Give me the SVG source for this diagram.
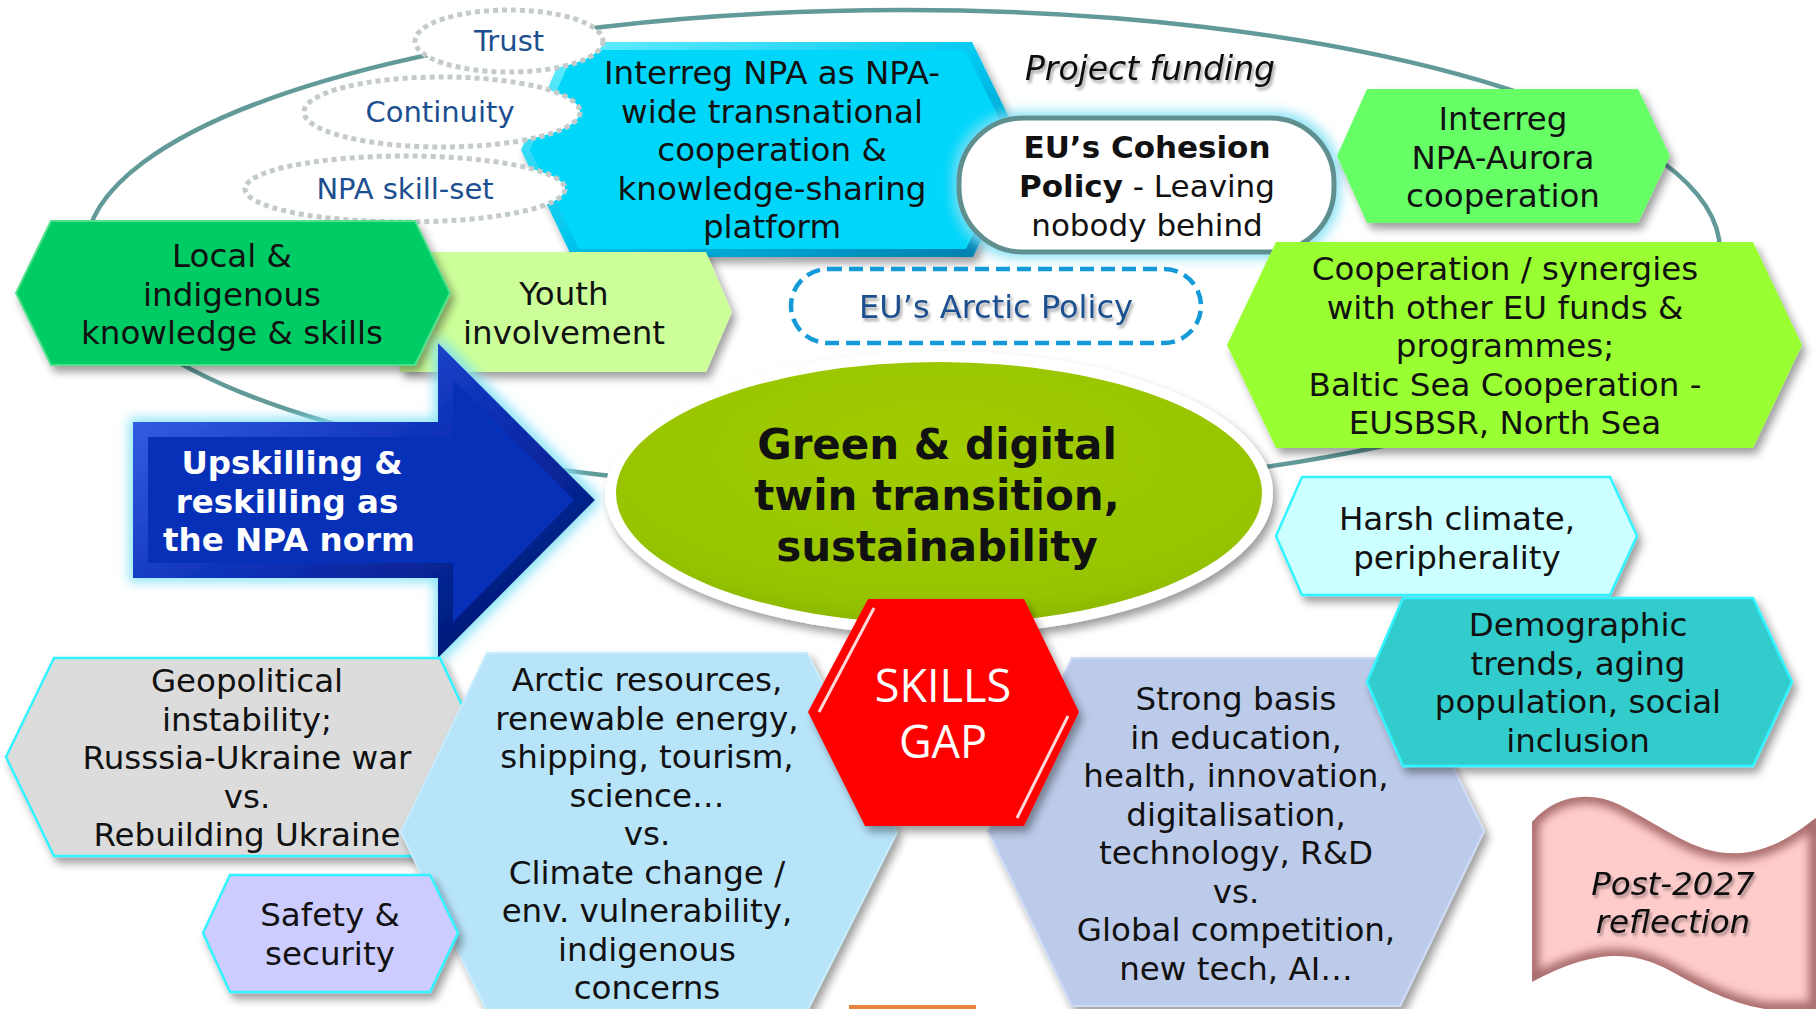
<svg xmlns="http://www.w3.org/2000/svg" width="1816" height="1009" viewBox="0 0 1816 1009">
  <defs>
    <style>
      .t { font-family: "DejaVu Sans", Verdana, sans-serif; font-size: 32.5px; fill: #111; text-anchor: middle; }
      .tb { font-weight: bold; }
      .ti { font-style: italic; }
      .w { fill: #fff; }
      .blue { fill: #1c4f8f; font-size: 29px; }
      .coh { font-size: 31px; }
      .big { font-size: 42px; }
      .dotted { fill: #fff; stroke: #c3cbcb; stroke-width: 5; stroke-dasharray: 5 4; }
      .cyanedge { stroke: #33f3ff; stroke-width: 2.5; }
    </style>
    <filter id="shadow" x="-10%" y="-10%" width="125%" height="130%">
      <feDropShadow dx="4" dy="6" stdDeviation="4" flood-color="#000" flood-opacity="0.38"/>
    </filter>
    <filter id="tshadow" x="-5%" y="-20%" width="115%" height="150%">
      <feDropShadow dx="2" dy="3" stdDeviation="1.5" flood-color="#000" flood-opacity="0.35"/>
    </filter>
    <filter id="glow" x="-15%" y="-20%" width="130%" height="140%">
      <feMorphology in="SourceAlpha" operator="dilate" radius="4" result="d"/>
      <feGaussianBlur in="d" stdDeviation="6" result="b"/>
      <feFlood flood-color="#7fe0f5" flood-opacity="0.9"/>
      <feComposite in2="b" operator="in" result="g"/>
      <feMerge><feMergeNode in="g"/><feMergeNode in="SourceGraphic"/></feMerge>
    </filter>
    <filter id="soft" x="-10%" y="-10%" width="120%" height="120%">
      <feGaussianBlur stdDeviation="5"/>
    </filter>
    <clipPath id="flagClip">
      <path d="M1532,822 C1555,795 1590,790 1620,805 C1670,830 1700,860 1750,852 C1785,845 1805,825 1816,818 L1816,1009 L1765,1009 C1725,1002 1695,984 1665,968 C1630,950 1590,950 1532,982 Z"/>
    </clipPath>
    <linearGradient id="cyanBevel" x1="0" y1="0" x2="1" y2="1">
      <stop offset="0" stop-color="#6ff2ff"/>
      <stop offset="0.5" stop-color="#00c6ee"/>
      <stop offset="1" stop-color="#0078a8"/>
    </linearGradient>
    <linearGradient id="blueBevel" x1="0" y1="0" x2="1" y2="1">
      <stop offset="0" stop-color="#3f6bf0"/>
      <stop offset="0.5" stop-color="#0a2fb4"/>
      <stop offset="1" stop-color="#01135e"/>
    </linearGradient>
    <radialGradient id="greenFill" cx="0.5" cy="0.35" r="0.7">
      <stop offset="0" stop-color="#a2cc00"/>
      <stop offset="0.8" stop-color="#97c400"/>
      <stop offset="1" stop-color="#86b300"/>
    </radialGradient>
  </defs>

  <rect width="1816" height="1009" fill="#fff"/>

  <!-- connector ring that ties the themes together -->
  <g id="connectors">
    <ellipse cx="903" cy="251" rx="817" ry="241" fill="none" stroke="#629a9a" stroke-width="4.5"/>
  </g>

  <!-- upper row -->
  <g id="node-interreg-npa">
    <g filter="url(#shadow)">
      <polygon points="568,42 972,42 1025,150 973,257 572,257 521,150" fill="url(#cyanBevel)"/>
      <polygon points="575,50 965,50 1015,150 966,249 579,249 530,150" fill="#00d6fa"/>
    </g>
    <text class="t" x="772" y="84">Interreg NPA as NPA-</text>
    <text class="t" x="772" y="122.5">wide transnational</text>
    <text class="t" x="772" y="161">cooperation &amp;</text>
    <text class="t" x="772" y="199.5">knowledge-sharing</text>
    <text class="t" x="772" y="238">platform</text>
  </g>

  <g id="node-trust">
    <ellipse class="dotted" cx="509" cy="41" rx="94" ry="31"/>
    <text class="t blue" x="509" y="51">Trust</text>
  </g>
  <g id="node-continuity">
    <ellipse class="dotted" cx="442" cy="112" rx="138" ry="35"/>
    <text class="t blue" x="440" y="122">Continuity</text>
  </g>
  <g id="node-skillset">
    <ellipse class="dotted" cx="405" cy="189" rx="160" ry="33"/>
    <text class="t blue" x="405" y="199">NPA skill-set</text>
  </g>

  <g id="node-project-funding">
    <text class="t ti" x="1150" y="80" style="font-size:33px" filter="url(#tshadow)">Project funding</text>
  </g>

  <g id="node-cohesion">
    <rect x="959" y="118" width="375" height="134" rx="64" fill="#fff" stroke="#5f8f8f" stroke-width="5" filter="url(#glow)"/>
    <text class="t tb coh" x="1147" y="158">EU’s Cohesion</text>
    <text class="t coh" x="1147" y="197"><tspan font-weight="bold">Policy</tspan> -  Leaving</text>
    <text class="t coh" x="1147" y="236">nobody behind</text>
  </g>

  <g id="node-aurora">
    <polygon points="1367,89 1638,89 1670,156 1638,223 1367,223 1337,156" fill="#66ff66" filter="url(#shadow)"/>
    <text class="t" x="1503" y="130">Interreg</text>
    <text class="t" x="1503" y="168.5">NPA-Aurora</text>
    <text class="t" x="1503" y="207">cooperation</text>
  </g>

  <g id="node-cooperation">
    <polygon points="1276,242 1753,242 1802,345 1753,448 1276,448 1227,345" fill="#99ff33" filter="url(#shadow)"/>
    <text class="t" x="1505" y="280">Cooperation / synergies</text>
    <text class="t" x="1505" y="318.5">with other EU funds &amp;</text>
    <text class="t" x="1505" y="357">programmes;</text>
    <text class="t" x="1505" y="395.5">Baltic Sea Cooperation -</text>
    <text class="t" x="1505" y="434">EUSBSR, North Sea</text>
  </g>

  <g id="node-arctic-policy">
    <rect x="791" y="269" width="410" height="74" rx="37" fill="none" stroke="#149ad8" stroke-width="4.5" stroke-dasharray="14 7"/>
    <text class="t blue" x="996" y="318" style="font-size:32px" filter="url(#tshadow)">EU’s Arctic Policy</text>
  </g>

  <g id="node-youth">
    <polygon points="400,252 706,252 732,312 706,372 400,372" fill="#ccff99" filter="url(#shadow)"/>
    <text class="t" x="564" y="305">Youth</text>
    <text class="t" x="564" y="343.5">involvement</text>
  </g>

  <g id="node-local">
    <polygon points="51,221 415,221 450,293 415,365 51,365 16,293" fill="#00cc66" stroke="#4fe08a" stroke-width="2" filter="url(#shadow)"/>
    <text class="t" x="232" y="267">Local &amp;</text>
    <text class="t" x="232" y="305.5">indigenous</text>
    <text class="t" x="232" y="344">knowledge &amp; skills</text>
  </g>

  <g id="node-upskilling">
    <g filter="url(#glow)">
      <path d="M133,422 L438,422 L438,343 L595,500 L438,658 L438,578 L133,578 Z" fill="url(#blueBevel)"/>
    </g>
    <path d="M148,437 L453,437 L453,379 L574,500 L453,622 L453,563 L148,563 Z" fill="#0730b8"/>
    <text class="t tb w" x="292" y="474">Upskilling &amp;</text>
    <text class="t tb w" x="287" y="512.5">reskilling as</text>
    <text class="t tb w" x="289" y="551">the NPA norm</text>
  </g>

  <!-- centre -->
  <g id="node-twin-transition">
    <ellipse cx="939" cy="493" rx="334" ry="142" fill="#fff" filter="url(#shadow)"/>
    <ellipse cx="939" cy="493" rx="323" ry="131" fill="url(#greenFill)"/>
    <text class="t tb big" x="937" y="459">Green &amp; digital</text>
    <text class="t tb big" x="937" y="510">twin transition,</text>
    <text class="t tb big" x="937" y="561">sustainability</text>
  </g>

  <!-- right column -->
  <g id="node-harsh-climate">
    <polygon class="cyanedge" points="1302,477 1610,477 1637,536 1610,595 1302,595 1276,536" fill="#ccffff" filter="url(#shadow)"/>
    <text class="t" x="1457" y="530">Harsh climate,</text>
    <text class="t" x="1457" y="568.5">peripherality</text>
  </g>

  <!-- lower row -->
  <g id="node-geopolitical">
    <polygon class="cyanedge" points="54,658 440,658 486,757 440,856 54,856 6,757" fill="#dcdcdc" filter="url(#shadow)"/>
    <text class="t" x="247" y="692">Geopolitical</text>
    <text class="t" x="247" y="730.5">instability;</text>
    <text class="t" x="247" y="769">Russsia-Ukraine war</text>
    <text class="t" x="247" y="807.5">vs.</text>
    <text class="t" x="247" y="846">Rebuilding Ukraine</text>
  </g>

  <g id="node-arctic-resources">
    <polygon points="487,653 807,653 897,832 807,1011 487,1011 401,832" fill="#b8e4fa" stroke="#c6ecfd" stroke-width="2" filter="url(#shadow)"/>
    <text class="t" x="647" y="691">Arctic resources,</text>
    <text class="t" x="647" y="729.5">renewable energy,</text>
    <text class="t" x="647" y="768">shipping, tourism,</text>
    <text class="t" x="647" y="806.5">science…</text>
    <text class="t" x="647" y="845">vs.</text>
    <text class="t" x="647" y="883.5">Climate change /</text>
    <text class="t" x="647" y="922">env. vulnerability,</text>
    <text class="t" x="647" y="960.5">indigenous</text>
    <text class="t" x="647" y="999">concerns</text>
  </g>

  <g id="node-safety">
    <polygon class="cyanedge" points="230,875 430,875 458,933 430,992 230,992 203,933" fill="#ccccff" filter="url(#shadow)"/>
    <text class="t" x="330" y="926">Safety &amp;</text>
    <text class="t" x="330" y="964.5">security</text>
  </g>

  <g id="node-strong-basis">
    <polygon points="1072,658 1400,658 1484,831 1400,1006 1072,1006 988,831" fill="#bccbea" stroke="#cddbf6" stroke-width="2" filter="url(#shadow)"/>
    <text class="t" x="1236" y="710">Strong basis</text>
    <text class="t" x="1236" y="748.5">in education,</text>
    <text class="t" x="1236" y="787">health, innovation,</text>
    <text class="t" x="1236" y="825.5">digitalisation,</text>
    <text class="t" x="1236" y="864">technology, R&amp;D</text>
    <text class="t" x="1236" y="902.5">vs.</text>
    <text class="t" x="1236" y="941">Global competition,</text>
    <text class="t" x="1236" y="979.5">new tech, AI…</text>
  </g>

  <g id="node-demographic">
    <polygon class="cyanedge" points="1403,598 1753,598 1792,682 1753,766 1403,766 1367,682" fill="#33cccc" filter="url(#shadow)"/>
    <text class="t" x="1578" y="636">Demographic</text>
    <text class="t" x="1578" y="674.5">trends, aging</text>
    <text class="t" x="1578" y="713">population, social</text>
    <text class="t" x="1578" y="751.5">inclusion</text>
  </g>

  <g id="node-skills-gap">
    <polygon points="868,599 1024,599 1079,712 1024,826 865,826 808,712" fill="#ff0000" filter="url(#shadow)"/>
    <polyline points="874,608 819,712" fill="none" stroke="#fff" stroke-width="3" stroke-opacity="0.85"/>
    <polyline points="1068,716 1017,818" fill="none" stroke="#fff" stroke-width="3" stroke-opacity="0.85"/>
    <text x="943" y="702" font-family="'Open Sans', 'DejaVu Sans', sans-serif" font-size="45" fill="#fff" text-anchor="middle">SKILLS</text>
    <text x="943" y="758" font-family="'Open Sans', 'DejaVu Sans', sans-serif" font-size="45" fill="#fff" text-anchor="middle">GAP</text>
  </g>

  <g id="node-post-2027">
    <g clip-path="url(#flagClip)">
      <rect x="1520" y="780" width="296" height="229" fill="#ffcccc"/>
      <path d="M1532,822 C1555,795 1590,790 1620,805 C1670,830 1700,860 1750,852 C1785,845 1805,825 1816,818 L1816,1009 L1765,1009 C1725,1002 1695,984 1665,968 C1630,950 1590,950 1532,982 Z" fill="none" stroke="#8a4a4a" stroke-width="14" stroke-opacity="0.75" filter="url(#soft)"/>
    </g>
    <text class="t ti" x="1673" y="895" filter="url(#tshadow)">Post-2027</text>
    <text class="t ti" x="1673" y="933" filter="url(#tshadow)">reflection</text>
  </g>

  <rect x="849" y="1005" width="127" height="4" fill="#e8843c"/>
</svg>
